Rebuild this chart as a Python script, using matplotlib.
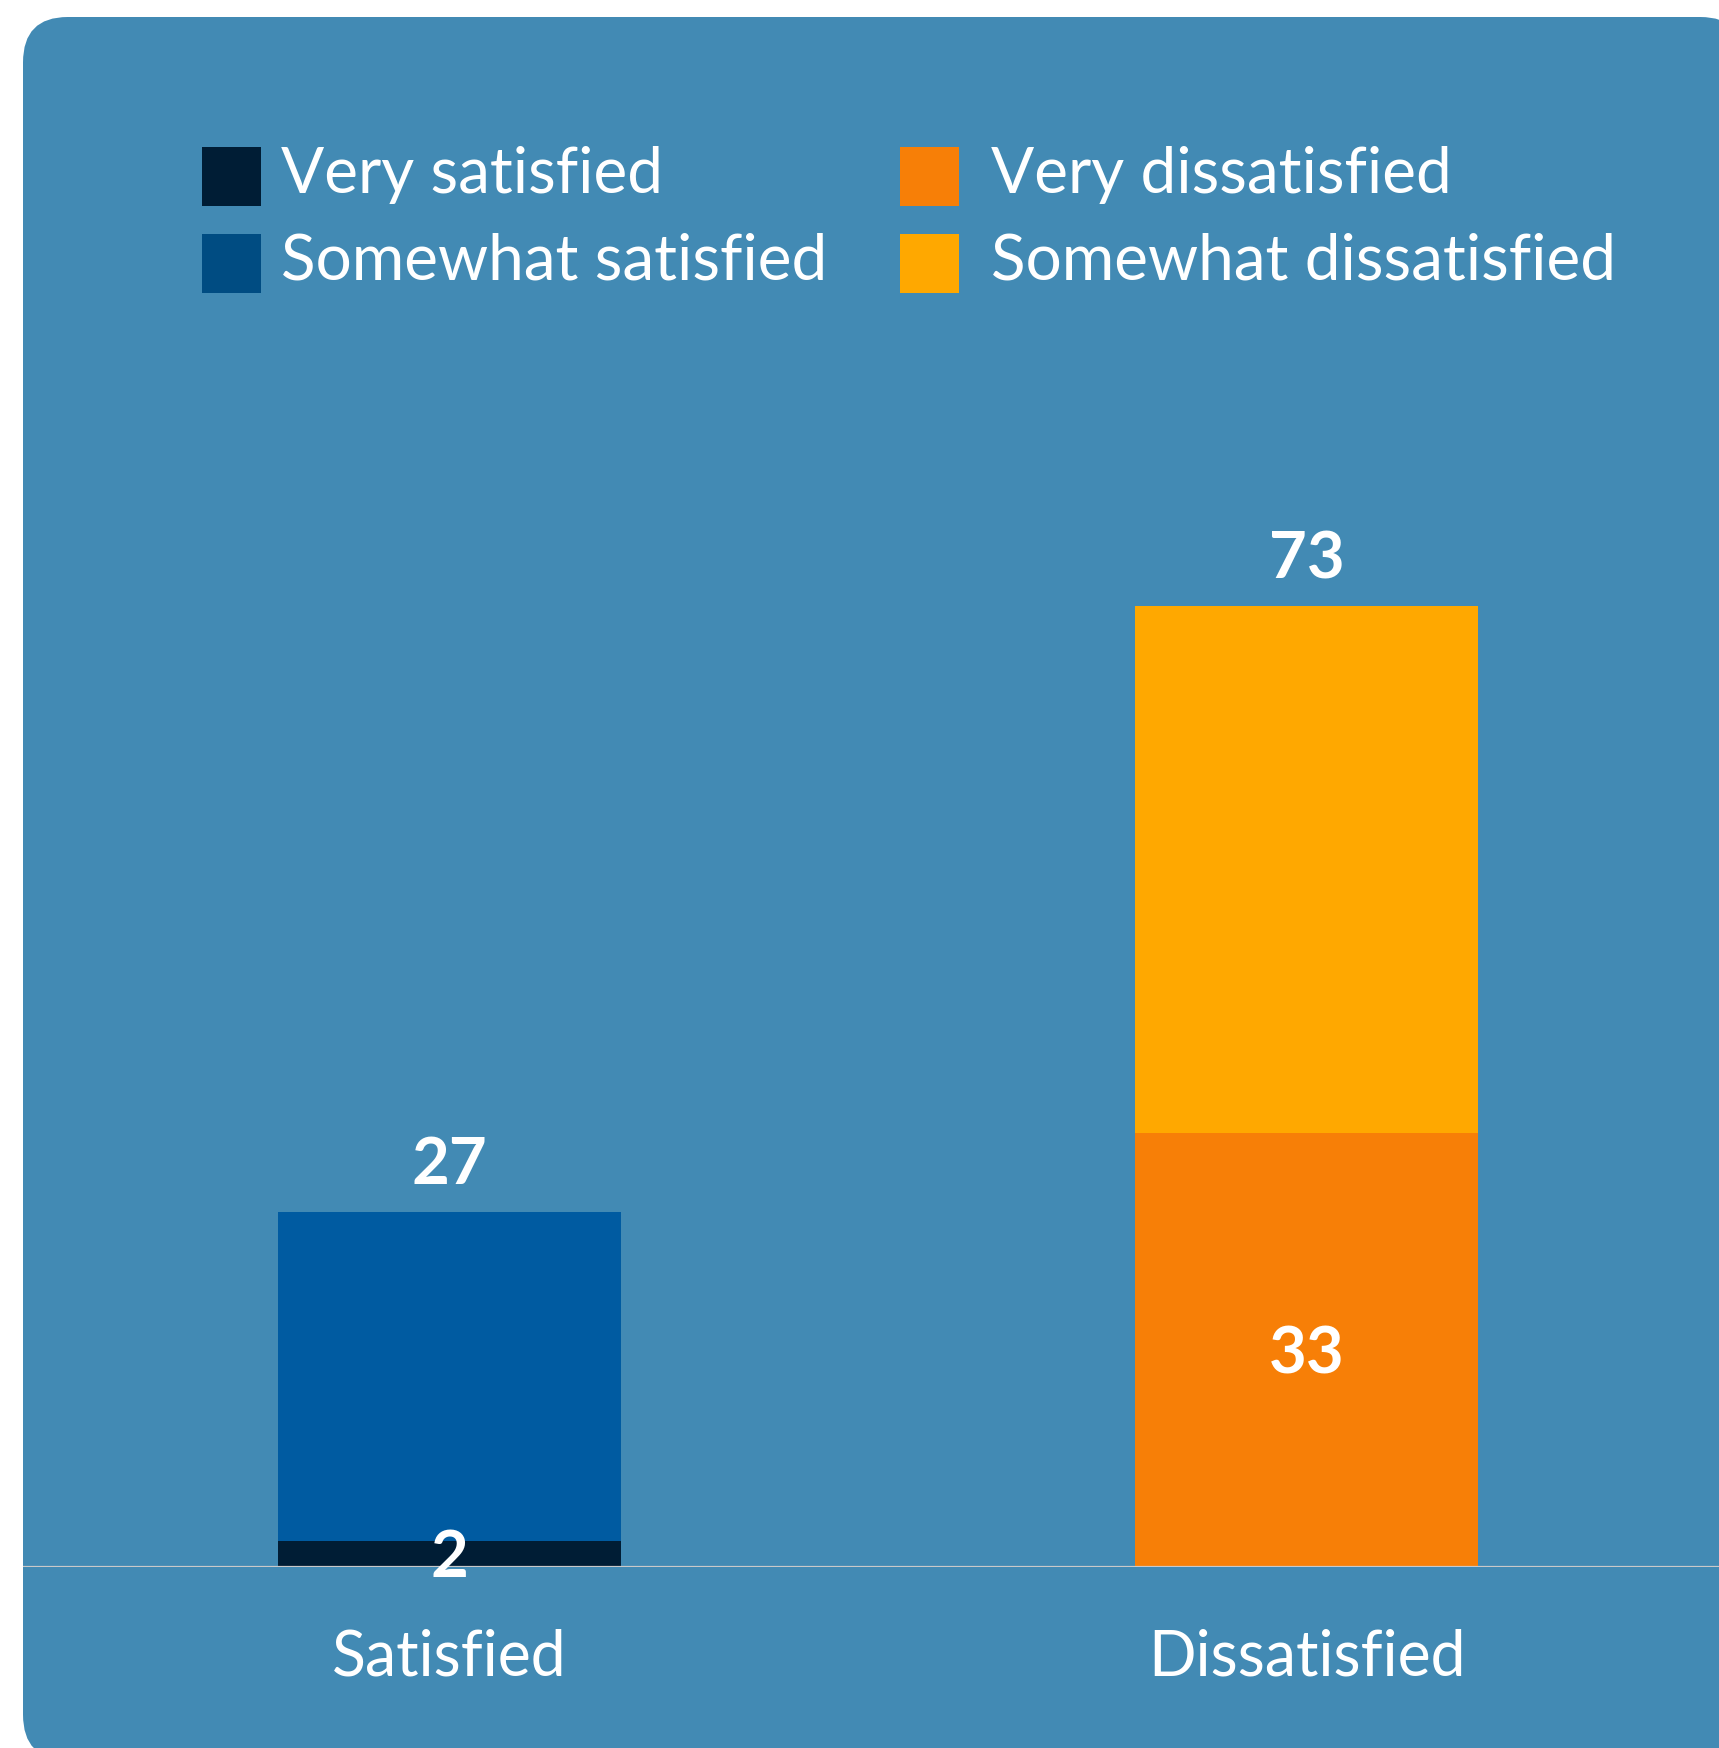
import matplotlib
matplotlib.use("Agg")
import matplotlib.pyplot as plt
from matplotlib.patches import FancyBboxPatch, Rectangle

# Data
categories = ["Satisfied", "Dissatisfied"]
very = [2, 33]          # Very satisfied / Very dissatisfied
somewhat = [25, 40]     # Somewhat satisfied / Somewhat dissatisfied
totals = [27, 73]

legend_labels = ["Very satisfied", "Somewhat satisfied",
                 "Very dissatisfied", "Somewhat dissatisfied"]

# Colours
panel_color = "#428ab4"
very_colors = ["#001d35", "#f77f07"]
somewhat_colors = ["#005ba1", "#ffa800"]
legend_colors = ["#001d35", "#004c82", "#f77f07", "#ffa800"]

plt.rcParams["font.family"] = ["Lato", "DejaVu Sans"]

W, H = 1719, 1748
fig = plt.figure(figsize=(W / 100, H / 100), dpi=100)
fig.patch.set_facecolor("white")


def fx(px):
    return px / W


def fy(py):
    return 1 - py / H


# Rounded background panel (runs off the right and bottom edges)
panel = FancyBboxPatch((fx(23), fy(1760)), fx(1745) - fx(23), fy(17) - fy(1760),
                       boxstyle="round,pad=0,rounding_size=0.026",
                       transform=fig.transFigure, facecolor=panel_color,
                       edgecolor="none", zorder=0)
fig.add_artist(panel)

# Axes: baseline at y=1567 px, 80 units tall
ax = fig.add_axes([fx(23), fy(1567), fx(1719) - fx(23), (1567 - 514) / H])
ax.set_facecolor("none")
ax.set_ylim(0, 80)
ax.set_xlim(-0.497, 1.4805)
for s in ax.spines.values():
    s.set_visible(False)
ax.set_xticks([])
ax.set_yticks([])

x = list(range(len(categories)))
ax.bar(x, very, width=0.4, color=very_colors, zorder=2)
ax.bar(x, somewhat, width=0.4, bottom=very, color=somewhat_colors, zorder=2)
ax.axhline(0, color="#c9c9c9", lw=1.6, zorder=3)

# Value labels
for xi, v in zip(x, very):
    ax.annotate(str(v), (xi, v / 2), xytext=(0, -17), textcoords="offset points",
                ha="center", va="baseline", color="white", fontsize=47,
                fontweight="bold", zorder=4)
for xi, t in zip(x, totals):
    ax.annotate(str(t), (xi, t), xytext=(0, 20), textcoords="offset points",
                ha="center", va="baseline", color="white", fontsize=47,
                fontweight="bold", zorder=4)

# Category labels
for xi, c in zip(x, categories):
    ax.annotate(c, (xi, 0), xytext=(0, -78), textcoords="offset points",
                ha="center", va="baseline", color="white", fontsize=45,
                annotation_clip=False)

# Legend, two columns
col_x = [202, 900]
text_x = [281, 991]
row_y = [147, 234]
for i, (lab, col) in enumerate(zip(legend_labels, legend_colors)):
    cx = col_x[i // 2]
    ry = row_y[i % 2]
    fig.add_artist(Rectangle((fx(cx), fy(ry + 59)), 59 / W, 59 / H,
                             transform=fig.transFigure, facecolor=col,
                             edgecolor="none"))
    fig.text(fx(text_x[i // 2]), fy(ry + 46), lab, color="white", fontsize=46,
             va="baseline", ha="left")

fig.savefig("out.png", dpi=100)
